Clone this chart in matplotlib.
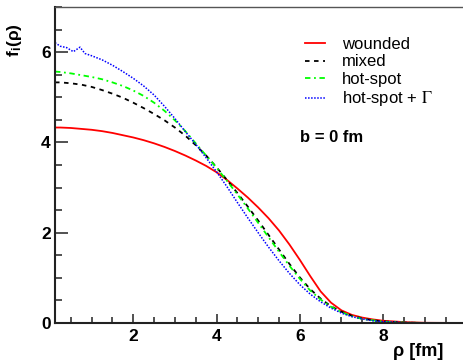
import matplotlib
matplotlib.use("Agg")
import matplotlib.pyplot as plt
from matplotlib.ticker import MultipleLocator

plt.rcParams["font.family"] = ["Liberation Sans", "DejaVu Sans"]
plt.rcParams["mathtext.fontset"] = "stix"

# radial grid (fm)
rho = [0.12, 0.25, 0.5, 0.75, 1.0, 1.25, 1.5, 1.75, 2.0, 2.25, 2.5, 2.75,
       3.0, 3.25, 3.5, 3.75, 4.0, 4.25, 4.5, 4.75, 5.0, 5.25, 5.5, 5.75,
       6.0, 6.25, 6.5, 6.75, 7.0, 7.25, 7.5, 7.75, 8.0, 8.5, 9.0, 10.0]

wounded = [4.33, 4.33, 4.32, 4.30, 4.28, 4.25, 4.21, 4.16, 4.11, 4.05, 3.98, 3.90,
           3.81, 3.71, 3.60, 3.48, 3.34, 3.17, 2.98, 2.78, 2.56, 2.32, 2.05, 1.74,
           1.40, 1.04, 0.70, 0.45, 0.28, 0.18, 0.12, 0.08, 0.05, 0.02, 0.005, 0.0]

mixed = [5.33, 5.33, 5.31, 5.28, 5.23, 5.16, 5.08, 4.99, 4.88, 4.76, 4.63, 4.49,
         4.33, 4.15, 3.94, 3.71, 3.45, 3.17, 2.88, 2.58, 2.27, 1.95, 1.63, 1.31,
         1.01, 0.75, 0.54, 0.37, 0.25, 0.16, 0.10, 0.06, 0.035, 0.01, 0.0, 0.0]

hotspot = [5.57, 5.56, 5.53, 5.49, 5.45, 5.40, 5.33, 5.25, 5.15, 5.03, 4.88, 4.70,
           4.49, 4.25, 3.98, 3.71, 3.44, 3.15, 2.85, 2.54, 2.22, 1.90, 1.58, 1.27,
           0.98, 0.72, 0.52, 0.36, 0.24, 0.15, 0.09, 0.06, 0.03, 0.01, 0.0, 0.0]

# hot-spot + Gamma has statistical wiggles near the centre, so its own grid
rho_gamma = [0.12, 0.25, 0.4, 0.56, 0.72, 0.84, 1.0, 1.25, 1.5, 1.75, 2.0, 2.25,
             2.5, 2.75, 3.0, 3.25, 3.5, 3.75, 4.0, 4.25, 4.5, 4.75, 5.0, 5.25,
             5.5, 5.75, 6.0, 6.25, 6.5, 6.75, 7.0, 7.25, 7.5, 7.75, 8.0, 8.5,
             9.0, 10.0]

hotspot_gamma = [6.21, 6.13, 6.10, 6.01, 6.11, 5.97, 5.92, 5.83, 5.71, 5.57, 5.42, 5.25,
                 5.05, 4.80, 4.53, 4.24, 3.96, 3.66, 3.35, 3.02, 2.67, 2.33, 2.00, 1.68,
                 1.38, 1.10, 0.85, 0.64, 0.47, 0.33, 0.22, 0.14, 0.09, 0.05, 0.03, 0.01,
                 0.0, 0.0]

fig = plt.figure(figsize=(4.64, 3.6), dpi=100)
ax = fig.add_axes([55 / 464, 1 - 323 / 360, (463 - 55) / 464, (323 - 7) / 360])

ax.plot(rho, wounded, color="#ff0000", lw=1.3, label="wounded")
ax.plot(rho, mixed, color="black", lw=1.3, dashes=(2.5, 2.5), label="mixed")
ax.plot(rho, hotspot, color="#00ff00", lw=1.3, dashes=(3, 2, 1, 2), label="hot-spot")
ax.plot(rho_gamma, hotspot_gamma, color="#0000ff", lw=1.1, dashes=(1, 1),
        label=r"hot-spot + $\mathrm{\Gamma}$")

ax.set_xlim(0.12, 9.92)
ax.set_ylim(0, 7)

ax.xaxis.set_major_locator(MultipleLocator(2))
ax.xaxis.set_minor_locator(MultipleLocator(0.5))
ax.yaxis.set_major_locator(MultipleLocator(2))
ax.yaxis.set_minor_locator(MultipleLocator(0.5))

ax.tick_params(which="both", direction="in", color="#333333", width=1.2)
ax.tick_params(axis="y", which="major", length=9.5, pad=3)
ax.tick_params(axis="y", which="minor", length=4.8)
ax.tick_params(axis="x", which="major", length=6.5, pad=4)
ax.tick_params(axis="x", which="minor", length=4.3)
ax.tick_params(axis="x", which="both", top=False)
ax.tick_params(axis="y", which="both", right=False)
for lab in ax.get_xticklabels() + ax.get_yticklabels():
    lab.set_fontweight("bold")
    lab.set_fontsize(12.5)

for side in ["left", "bottom"]:
    ax.spines[side].set_linewidth(1.5)
    ax.spines[side].set_color("#222222")
ax.spines["top"].set_linewidth(1.0)
ax.spines["top"].set_color("#555555")
ax.spines["right"].set_visible(False)

leg = ax.legend(loc="upper left", bbox_to_anchor=(305 / 464, 1 - 37 / 360),
                bbox_transform=fig.transFigure, frameon=False, fontsize=12,
                handlelength=1.2, handletextpad=1.0, labelspacing=0.15,
                borderpad=0.0, borderaxespad=0.0)

fig.text(300 / 464, 1 - 137 / 360, "b = 0 fm", fontsize=12, fontweight="bold",
         va="center", ha="left")

fig.text(15 / 464, 1 - 40 / 360, r"f$_{\mathregular{i}}$(ρ)", rotation=90,
         fontsize=12.5, fontweight="bold", va="center", ha="center")
fig.text(443 / 464, 1 - 352 / 360, "ρ [fm]", fontsize=13, fontweight="bold",
         va="center", ha="right")

fig.savefig("out.png", dpi=100)
